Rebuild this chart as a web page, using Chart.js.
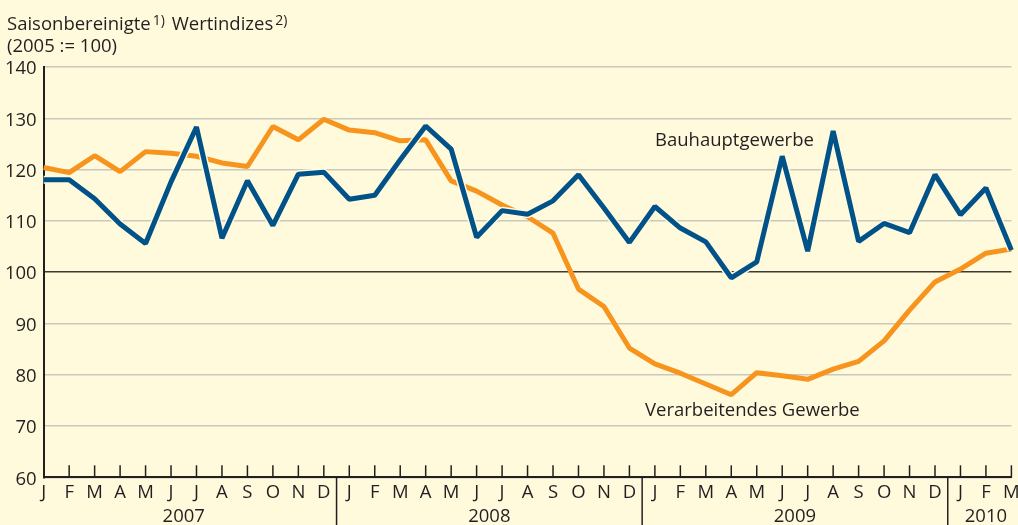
<!DOCTYPE html>
<html><head><meta charset="utf-8">
<script src="https://cdn.jsdelivr.net/npm/chart.js@4.4.1/dist/chart.umd.min.js"></script>
<style>
html,body{margin:0;padding:0;background:#FFFADC;}
#wrap{width:1018px;height:525px;position:relative;overflow:hidden;}
canvas{display:block;}
</style>
</head><body>
<div id="wrap"><canvas id="c" width="1018" height="525"></canvas></div>
<script>
// ---- data ----
const months = ['J','F','M','A','M','J','J','A','S','O','N','D',
                'J','F','M','A','M','J','J','A','S','O','N','D',
                'J','F','M','A','M','J','J','A','S','O','N','D',
                'J','F','M'];
const years = ['2007','2008','2009','2010'];
const monthsPerYear = [12,12,12,3];
const bauhauptgewerbe = [118.0,118.0,114.3,109.4,105.6,117.6,128.3,106.6,117.8,109.1,119.1,119.5,
                         114.2,115.0,121.9,128.5,124.0,106.8,112.0,111.3,113.9,119.0,112.5,105.8,
                         112.8,108.6,105.9,98.9,102.0,122.6,104.1,127.5,106.0,109.5,107.7,119.0,
                         111.2,116.4,104.3];
const verarbeitendesGewerbe = [120.4,119.4,122.7,119.6,123.5,123.2,122.6,121.3,120.6,128.4,125.8,129.8,
                               127.7,127.2,125.6,125.8,117.8,115.8,113.1,110.8,107.6,96.7,93.3,85.2,
                               82.1,80.3,78.2,76.1,80.4,79.8,79.1,81.1,82.6,86.6,92.6,98.1,
                               100.6,103.7,104.5];
const yMin = 60, yMax = 140, yStep = 10, yReference = 100;
const seriesNames = ['Bauhauptgewerbe','Verarbeitendes Gewerbe'];
const titleLine1 = [['Saisonbereinigte',false],['1)',true],[' Wertindizes',false],['2)',true]];
const titleLine2 = '(2005 := 100)';

// ---- style ----
const BG = '#FFFADC', BLUE = '#005288', ORANGE = '#F7941D', INK = '#231F20', GRID = '#C9C8BE';
const FONT = '"Open Sans", "Noto Sans", sans-serif';
const FS = 18.5;

const decor = {
  id: 'decor',
  beforeDatasetsDraw(chart) {
    const ctx = chart.ctx, x = chart.scales.x, a = chart.chartArea;
    ctx.save();
    ctx.strokeStyle = INK; ctx.lineWidth = 1.5;
    for (let i = 1; i < months.length; i++) {
      const px = x.getPixelForValue(i);
      ctx.beginPath(); ctx.moveTo(px, a.bottom); ctx.lineTo(px, a.bottom - 12); ctx.stroke();
    }
    ctx.restore();
  },
  afterDraw(chart) {
    const ctx = chart.ctx, x = chart.scales.x, a = chart.chartArea;
    ctx.save();
    ctx.strokeStyle = INK; ctx.lineWidth = 1.5;
    ctx.fillStyle = INK; ctx.font = FS + 'px ' + FONT;
    ctx.textAlign = 'center'; ctx.textBaseline = 'alphabetic';
    let start = 0;
    years.forEach((yr, k) => {
      const end = start + monthsPerYear[k] - 1;
      const x0 = x.getPixelForValue(start), x1 = x.getPixelForValue(end);
      ctx.fillText(yr, (x0 + x1) / 2, 522);
      if (k < years.length - 1) {
        const sx = (x1 + x.getPixelForValue(end + 1)) / 2;
        ctx.beginPath(); ctx.moveTo(sx, a.bottom); ctx.lineTo(sx, 525); ctx.stroke();
      }
      start = end + 1;
    });
    ctx.textAlign = 'left';
    ctx.fillText(seriesNames[0], 655, 145.5);
    ctx.fillText(seriesNames[1], 645, 416);
    let tx = 7;
    titleLine1.forEach(([t, sup]) => {
      if (sup) {
        ctx.font = '14px ' + FONT;
        ctx.fillText(t, tx + 2, 24.5);
        tx += ctx.measureText(t).width + 4;
      } else {
        ctx.font = FS + 'px ' + FONT;
        ctx.fillText(t, tx, 29.5);
        tx += ctx.measureText(t).width;
      }
    });
    ctx.font = FS + 'px ' + FONT;
    ctx.fillText(titleLine2, 7, 51.5);
    ctx.restore();
  }
};

new Chart(document.getElementById('c'), {
  type: 'line',
  data: {
    labels: months,
    datasets: [
      { label: seriesNames[0], data: bauhauptgewerbe, borderColor: BLUE, borderWidth: 5,
        pointRadius: 0, borderJoinStyle: 'bevel', tension: 0, order: 0 },
      { label: 'halo', data: bauhauptgewerbe, borderColor: BG, borderWidth: 8,
        pointRadius: 0, borderJoinStyle: 'bevel', tension: 0, order: 1 },
      { label: seriesNames[1], data: verarbeitendesGewerbe, borderColor: ORANGE, borderWidth: 5,
        pointRadius: 0, borderJoinStyle: 'bevel', tension: 0, order: 2 }
    ]
  },
  options: {
    responsive: false,
    animation: false,
    events: [],
    layout: { padding: { top: 67, right: 6.6, bottom: 0, left: 0 } },
    plugins: { legend: { display: false }, tooltip: { enabled: false }, title: { display: false } },
    scales: {
      x: {
        type: 'category', offset: false,
        grid: { display: false, drawTicks: false },
        border: { display: true, color: INK, width: 2 },
        ticks: { autoSkip: false, maxRotation: 0, minRotation: 0, color: INK,
                 font: { family: FONT, size: FS }, padding: 4 },
        afterFit(s) { s.height = 47.7; s.paddingLeft = 0; s.paddingRight = 0; }
      },
      y: {
        min: yMin, max: yMax,
        grid: { drawTicks: false,
                color: c => (c.tick && c.tick.value === yReference) ? '#3a3a3a' : GRID,
                lineWidth: 1.5 },
        border: { display: true, color: INK, width: 2 },
        ticks: { stepSize: yStep, color: INK, font: { family: FONT, size: FS }, padding: 7, labelOffset: 2 },
        afterFit(s) { s.width = 43.7; s.paddingTop = 0; s.paddingBottom = 0; }
      }
    }
  },
  plugins: [decor]
});
</script>
</body></html>
